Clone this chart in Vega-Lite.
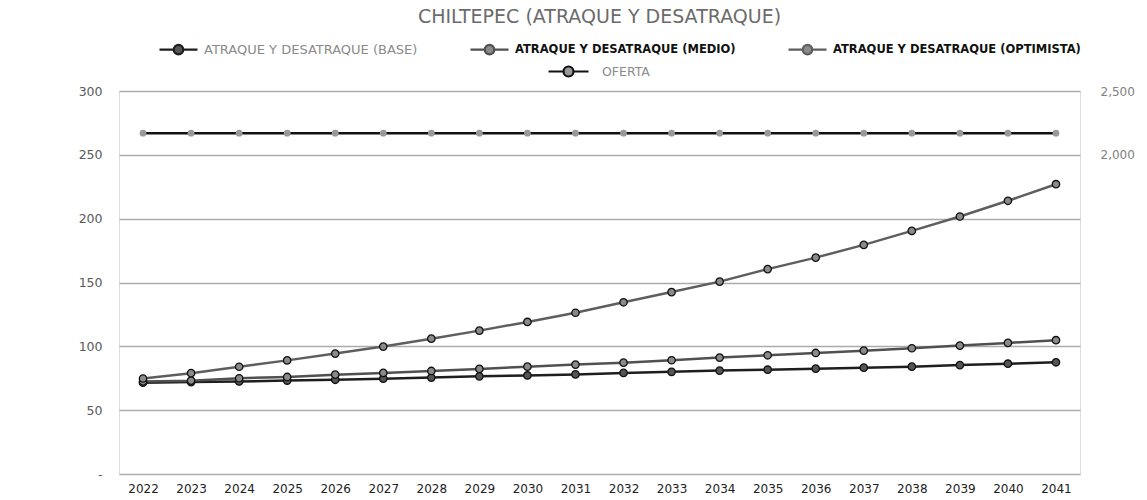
{
  "$schema": "https://vega.github.io/schema/vega-lite/v6.json",
  "autosize": "none",
  "width": 961,
  "height": 383,
  "padding": {"left": 119, "top": 91, "right": 67, "bottom": 26},
  "background": "white",
  "title": {"text": "CHILTEPEC (ATRAQUE Y DESATRAQUE)", "font": "DejaVu Sans", "fontSize": 19, "fontWeight": "normal", "color": "#6b6b6b", "anchor": "middle", "offset": 2},
  "data": {"values": [
    {"year": "2022", "series": "ATRAQUE Y DESATRAQUE (BASE)", "value": 71.5},
    {"year": "2023", "series": "ATRAQUE Y DESATRAQUE (BASE)", "value": 72},
    {"year": "2024", "series": "ATRAQUE Y DESATRAQUE (BASE)", "value": 72.5},
    {"year": "2025", "series": "ATRAQUE Y DESATRAQUE (BASE)", "value": 73.2},
    {"year": "2026", "series": "ATRAQUE Y DESATRAQUE (BASE)", "value": 73.8},
    {"year": "2027", "series": "ATRAQUE Y DESATRAQUE (BASE)", "value": 74.7},
    {"year": "2028", "series": "ATRAQUE Y DESATRAQUE (BASE)", "value": 75.5},
    {"year": "2029", "series": "ATRAQUE Y DESATRAQUE (BASE)", "value": 76.5},
    {"year": "2030", "series": "ATRAQUE Y DESATRAQUE (BASE)", "value": 77.2},
    {"year": "2031", "series": "ATRAQUE Y DESATRAQUE (BASE)", "value": 78},
    {"year": "2032", "series": "ATRAQUE Y DESATRAQUE (BASE)", "value": 79.2},
    {"year": "2033", "series": "ATRAQUE Y DESATRAQUE (BASE)", "value": 80},
    {"year": "2034", "series": "ATRAQUE Y DESATRAQUE (BASE)", "value": 81},
    {"year": "2035", "series": "ATRAQUE Y DESATRAQUE (BASE)", "value": 81.7},
    {"year": "2036", "series": "ATRAQUE Y DESATRAQUE (BASE)", "value": 82.5},
    {"year": "2037", "series": "ATRAQUE Y DESATRAQUE (BASE)", "value": 83.3},
    {"year": "2038", "series": "ATRAQUE Y DESATRAQUE (BASE)", "value": 84.1},
    {"year": "2039", "series": "ATRAQUE Y DESATRAQUE (BASE)", "value": 85.3},
    {"year": "2040", "series": "ATRAQUE Y DESATRAQUE (BASE)", "value": 86.4},
    {"year": "2041", "series": "ATRAQUE Y DESATRAQUE (BASE)", "value": 87.5},
    {"year": "2022", "series": "ATRAQUE Y DESATRAQUE (MEDIO)", "value": 72.5},
    {"year": "2023", "series": "ATRAQUE Y DESATRAQUE (MEDIO)", "value": 73.1},
    {"year": "2024", "series": "ATRAQUE Y DESATRAQUE (MEDIO)", "value": 75},
    {"year": "2025", "series": "ATRAQUE Y DESATRAQUE (MEDIO)", "value": 76},
    {"year": "2026", "series": "ATRAQUE Y DESATRAQUE (MEDIO)", "value": 77.8},
    {"year": "2027", "series": "ATRAQUE Y DESATRAQUE (MEDIO)", "value": 79.2},
    {"year": "2028", "series": "ATRAQUE Y DESATRAQUE (MEDIO)", "value": 80.7},
    {"year": "2029", "series": "ATRAQUE Y DESATRAQUE (MEDIO)", "value": 82.3},
    {"year": "2030", "series": "ATRAQUE Y DESATRAQUE (MEDIO)", "value": 84.1},
    {"year": "2031", "series": "ATRAQUE Y DESATRAQUE (MEDIO)", "value": 85.7},
    {"year": "2032", "series": "ATRAQUE Y DESATRAQUE (MEDIO)", "value": 87.2},
    {"year": "2033", "series": "ATRAQUE Y DESATRAQUE (MEDIO)", "value": 89.1},
    {"year": "2034", "series": "ATRAQUE Y DESATRAQUE (MEDIO)", "value": 91.2},
    {"year": "2035", "series": "ATRAQUE Y DESATRAQUE (MEDIO)", "value": 93},
    {"year": "2036", "series": "ATRAQUE Y DESATRAQUE (MEDIO)", "value": 94.8},
    {"year": "2037", "series": "ATRAQUE Y DESATRAQUE (MEDIO)", "value": 96.6},
    {"year": "2038", "series": "ATRAQUE Y DESATRAQUE (MEDIO)", "value": 98.5},
    {"year": "2039", "series": "ATRAQUE Y DESATRAQUE (MEDIO)", "value": 100.6},
    {"year": "2040", "series": "ATRAQUE Y DESATRAQUE (MEDIO)", "value": 102.7},
    {"year": "2041", "series": "ATRAQUE Y DESATRAQUE (MEDIO)", "value": 104.8},
    {"year": "2022", "series": "ATRAQUE Y DESATRAQUE (OPTIMISTA)", "value": 74.8},
    {"year": "2023", "series": "ATRAQUE Y DESATRAQUE (OPTIMISTA)", "value": 79},
    {"year": "2024", "series": "ATRAQUE Y DESATRAQUE (OPTIMISTA)", "value": 84},
    {"year": "2025", "series": "ATRAQUE Y DESATRAQUE (OPTIMISTA)", "value": 89},
    {"year": "2026", "series": "ATRAQUE Y DESATRAQUE (OPTIMISTA)", "value": 94.3},
    {"year": "2027", "series": "ATRAQUE Y DESATRAQUE (OPTIMISTA)", "value": 99.8},
    {"year": "2028", "series": "ATRAQUE Y DESATRAQUE (OPTIMISTA)", "value": 106},
    {"year": "2029", "series": "ATRAQUE Y DESATRAQUE (OPTIMISTA)", "value": 112.3},
    {"year": "2030", "series": "ATRAQUE Y DESATRAQUE (OPTIMISTA)", "value": 119.1},
    {"year": "2031", "series": "ATRAQUE Y DESATRAQUE (OPTIMISTA)", "value": 126.3},
    {"year": "2032", "series": "ATRAQUE Y DESATRAQUE (OPTIMISTA)", "value": 134.5},
    {"year": "2033", "series": "ATRAQUE Y DESATRAQUE (OPTIMISTA)", "value": 142.5},
    {"year": "2034", "series": "ATRAQUE Y DESATRAQUE (OPTIMISTA)", "value": 150.7},
    {"year": "2035", "series": "ATRAQUE Y DESATRAQUE (OPTIMISTA)", "value": 160.5},
    {"year": "2036", "series": "ATRAQUE Y DESATRAQUE (OPTIMISTA)", "value": 169.5},
    {"year": "2037", "series": "ATRAQUE Y DESATRAQUE (OPTIMISTA)", "value": 179.5},
    {"year": "2038", "series": "ATRAQUE Y DESATRAQUE (OPTIMISTA)", "value": 190.4},
    {"year": "2039", "series": "ATRAQUE Y DESATRAQUE (OPTIMISTA)", "value": 201.7},
    {"year": "2040", "series": "ATRAQUE Y DESATRAQUE (OPTIMISTA)", "value": 214},
    {"year": "2041", "series": "ATRAQUE Y DESATRAQUE (OPTIMISTA)", "value": 227},
    {"year": "2022", "series": "OFERTA", "value": 2170},
    {"year": "2023", "series": "OFERTA", "value": 2170},
    {"year": "2024", "series": "OFERTA", "value": 2170},
    {"year": "2025", "series": "OFERTA", "value": 2170},
    {"year": "2026", "series": "OFERTA", "value": 2170},
    {"year": "2027", "series": "OFERTA", "value": 2170},
    {"year": "2028", "series": "OFERTA", "value": 2170},
    {"year": "2029", "series": "OFERTA", "value": 2170},
    {"year": "2030", "series": "OFERTA", "value": 2170},
    {"year": "2031", "series": "OFERTA", "value": 2170},
    {"year": "2032", "series": "OFERTA", "value": 2170},
    {"year": "2033", "series": "OFERTA", "value": 2170},
    {"year": "2034", "series": "OFERTA", "value": 2170},
    {"year": "2035", "series": "OFERTA", "value": 2170},
    {"year": "2036", "series": "OFERTA", "value": 2170},
    {"year": "2037", "series": "OFERTA", "value": 2170},
    {"year": "2038", "series": "OFERTA", "value": 2170},
    {"year": "2039", "series": "OFERTA", "value": 2170},
    {"year": "2040", "series": "OFERTA", "value": 2170},
    {"year": "2041", "series": "OFERTA", "value": 2170}
  ]},
  "encoding": {
    "x": {"field": "year", "type": "ordinal", "scale": {"type": "point", "padding": 0.5},
      "axis": {"title": null, "grid": false, "domain": false, "ticks": false, "labelAngle": 0, "labelFont": "DejaVu Sans", "labelFontSize": 12, "labelColor": "#222222", "labelPadding": 9}}
  },
  "layer": [
    {
      "transform": [{"filter": "datum.series !== 'OFERTA'"}],
      "encoding": {
        "y": {"field": "value", "type": "quantitative", "scale": {"domain": [0, 300], "nice": false},
          "axis": {"title": null, "values": [0, 50, 100, 150, 200, 250, 300], "labelExpr": "datum.value === 0 ? '-' : datum.label", "grid": true, "gridColor": "#ababab", "gridWidth": 1.3, "domain": false, "ticks": false, "labelFont": "DejaVu Sans", "labelFontSize": 12.5, "labelColor": "#595959", "labelPadding": 17,
            "encode": {"labels": {"update": {"dx": {"signal": "datum.value === 0 ? -9 : 0"}}}}}
        }
      },
      "layer": [
        {
          "mark": {"type": "line", "strokeWidth": 2.5},
          "encoding": {
            "color": {"field": "series", "type": "nominal",
              "scale": {"domain": ["ATRAQUE Y DESATRAQUE (BASE)", "ATRAQUE Y DESATRAQUE (MEDIO)", "ATRAQUE Y DESATRAQUE (OPTIMISTA)"], "range": ["#1e1e1e", "#505050", "#5e5e5e"]},
              "legend": {"title": null, "orient": "none", "legendX": 39, "legendY": -62, "direction": "horizontal", "columnPadding": 48, "labelOffset": 5, "labelLimit": 0,
                "symbolType": "M-1,0H-0.25M0.25,0H1M-0.25,0A0.25,0.25,0,1,1,0.25,0A0.25,0.25,0,1,1,-0.25,0Z",
                "symbolSize": 1444, "symbolStrokeWidth": 2.2, "labelFont": "DejaVu Sans", "labelFontSize": 13,
                "encode": {
                  "symbols": {"update": {"stroke": {"value": "#111111"}, "fill": {"signal": "datum.value === 'ATRAQUE Y DESATRAQUE (BASE)' ? '#555555' : datum.value === 'ATRAQUE Y DESATRAQUE (MEDIO)' ? '#dddddd' : '#808080'"}, "opacity": {"value": 1}}},
                  "labels": {"update": {
                    "fill": {"signal": "datum.value === 'ATRAQUE Y DESATRAQUE (BASE)' ? '#8a8a8a' : '#111111'"},
                    "fontSize": {"signal": "datum.value === 'ATRAQUE Y DESATRAQUE (BASE)' ? 13 : 11.5"},
                    "fontWeight": {"signal": "datum.value === 'ATRAQUE Y DESATRAQUE (BASE)' ? 'normal' : 'bold'"}
                  }}
                }}
            }
          }
        },
        {
          "mark": {"type": "point", "filled": true, "size": 55, "stroke": "#111111", "strokeWidth": 1.3, "opacity": 1},
          "encoding": {
            "fill": {"field": "series", "type": "nominal",
              "scale": {"domain": ["ATRAQUE Y DESATRAQUE (BASE)", "ATRAQUE Y DESATRAQUE (MEDIO)", "ATRAQUE Y DESATRAQUE (OPTIMISTA)"], "range": ["#555555", "#8a8a8a", "#8a8a8a"]},
              "legend": null}
          }
        }
      ]
    },
    {
      "transform": [{"filter": "datum.series === 'OFERTA'"}],
      "encoding": {
        "y": {"field": "value", "type": "quantitative", "scale": {"domain": [-500, 2500], "nice": false},
          "axis": {"orient": "right", "title": null, "values": [2000, 2500], "format": ",.0f", "grid": false, "domain": false, "ticks": false, "labelFont": "DejaVu Sans", "labelFontSize": 12, "labelColor": "#7f7f7f", "labelPadding": 20}}
      },
      "layer": [
        {
          "mark": {"type": "line", "strokeWidth": 2.5},
          "encoding": {
            "color": {"field": "series", "type": "nominal", "scale": {"domain": ["OFERTA"], "range": ["#111111"]},
              "legend": {"title": null, "orient": "none", "legendX": 428, "legendY": -41, "direction": "horizontal", "labelOffset": 12,
                "symbolType": "M-1,0H-0.25M0.25,0H1M-0.25,0A0.25,0.25,0,1,1,0.25,0A0.25,0.25,0,1,1,-0.25,0Z",
                "symbolSize": 1600, "symbolStrokeWidth": 2.2, "labelFont": "DejaVu Sans", "labelFontSize": 12.5, "labelColor": "#8a8a8a",
                "encode": {"symbols": {"update": {"stroke": {"value": "#111111"}, "fill": {"value": "#999999"}, "opacity": {"value": 1}}}}}
            }
          }
        },
        {
          "mark": {"type": "point", "filled": true, "size": 45, "fill": "#999999", "strokeWidth": 0, "opacity": 1},
          "encoding": {}
        }
      ]
    }
  ],
  "resolve": {"scale": {"y": "independent", "color": "independent", "fill": "independent"}}
}
